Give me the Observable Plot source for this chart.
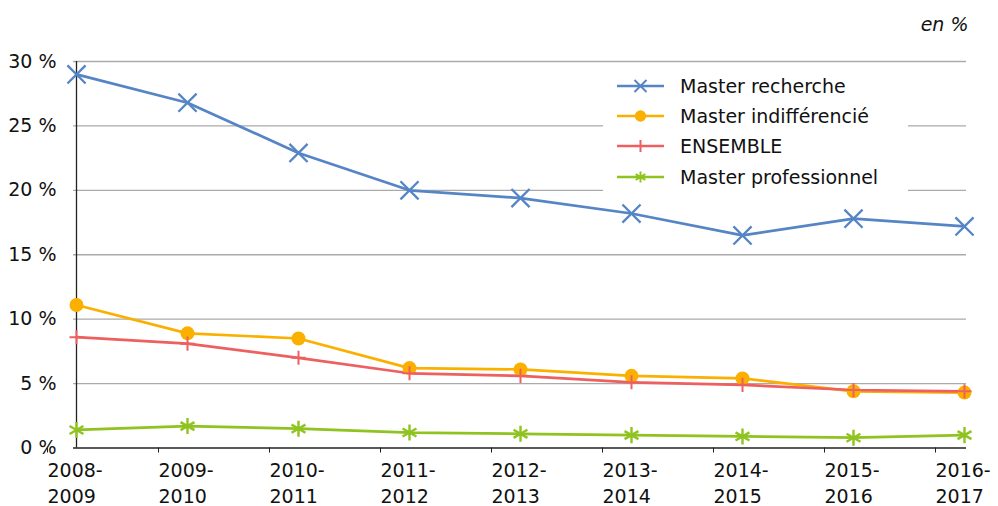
<!DOCTYPE html>
<html><head><meta charset="utf-8">
<script src="https://cdn.jsdelivr.net/npm/d3@7"></script>
<script src="https://cdn.jsdelivr.net/npm/@observablehq/plot@0.6"></script>
<style>
body{margin:0;background:#fff;font-family:"DejaVu Sans",sans-serif;}
#wrap{position:relative;width:998px;height:506px;overflow:hidden;}
#legend{position:absolute;left:603px;top:63px;width:305px;height:136px;background:#fff;}
</style></head><body><div id="wrap"></div>
<script>
const categories = ["2008-2009","2009-2010","2010-2011","2011-2012","2012-2013","2013-2014","2014-2015","2015-2016","2016-2017"];
const xTickLabels = ["2008-\n2009","2009-\n2010","2010-\n2011","2011-\n2012","2012-\n2013","2013-\n2014","2014-\n2015","2015-\n2016","2016-\n2017"];
const yTicks = [0, 5, 10, 15, 20, 25, 30];
const seriesNames = ["Master recherche", "Master indifférencié", "ENSEMBLE", "Master professionnel"];
const masterRecherche = [29.0, 26.8, 22.9, 20.0, 19.4, 18.2, 16.5, 17.8, 17.2];
const masterIndifferencie = [11.1, 8.9, 8.5, 6.2, 6.1, 5.6, 5.4, 4.4, 4.3];
const ensemble = [8.6, 8.1, 7.0, 5.8, 5.6, 5.1, 4.9, 4.5, 4.4];
const masterProfessionnel = [1.4, 1.7, 1.5, 1.2, 1.1, 1.0, 0.9, 0.8, 1.0];
const unitLabel = "en %";

const seriesValues = [masterRecherche, masterIndifferencie, ensemble, masterProfessionnel];
const seriesColors = ["#5585c5", "#fbb000", "#ee5f5f", "#8fc31f"];

const rows = [];
seriesNames.forEach((name, i) => seriesValues[i].forEach((v, j) => rows.push({series: name, cat: categories[j], value: v})));
const bySeries = name => rows.filter(d => d.series === name);
const labelOf = new Map(categories.map((c, i) => [c, xTickLabels[i]]));

const drawOrder = [3, 1, 2, 0];
const seriesMarks = [];
for (const i of drawOrder) {
  seriesMarks.push(Plot.line(bySeries(seriesNames[i]), {x: "cat", y: "value", stroke: seriesColors[i], strokeWidth: 2.7}));
}
const symOpts = [
  {symbol: "times", r: 8.3, stroke: seriesColors[0], strokeWidth: 2.3},
  {symbol: "circle", r: 7, fill: seriesColors[1], stroke: "none"},
  {symbol: "plus", r: 4.6, stroke: seriesColors[2], strokeWidth: 2},
  {symbol: "asterisk", r: 7.6, stroke: seriesColors[3], strokeWidth: 2.4}
];
for (const i of drawOrder) {
  seriesMarks.push(Plot.dot(bySeries(seriesNames[i]), {x: "cat", y: "value", ...symOpts[i]}));
}

const chart = Plot.plot({
  width: 998,
  height: 506,
  marginLeft: 73,
  marginRight: 32,
  marginTop: 61,
  marginBottom: 58.5,
  style: {fontFamily: "'DejaVu Sans', sans-serif", fontSize: "19px", color: "#111", background: "#fff"},
  x: {type: "point", domain: categories, padding: 0},
  y: {domain: [0, 30]},
  marks: [
    Plot.ruleY(yTicks.filter(d => d > 0), {stroke: "#aaaaaa", strokeWidth: 1.4}),
    Plot.ruleX([categories[0]], {stroke: "#222", strokeWidth: 1.3}),
    Plot.ruleY([0], {stroke: "#222", strokeWidth: 1.3}),
    Plot.axisY({ticks: yTicks, tickSize: 0, tickPadding: 17, tickFormat: d => d + " %", label: null, fontSize: 19}),
    Plot.axisX({tickSize: 5, tickPadding: 6, tickFormat: d => labelOf.get(d), textAnchor: "start", dx: -29, lineHeight: 1.36, label: null, fontSize: 19, stroke: "#222"}),
    ...seriesMarks,
    Plot.text([unitLabel], {frameAnchor: "top-right", dx: 2, dy: -37, textAnchor: "end", lineAnchor: "middle", fontStyle: "italic", fontSize: 19})
  ]
});
const wrap = document.getElementById("wrap");
wrap.appendChild(chart);

// Legend
const legend = document.createElement("div");
legend.id = "legend";
wrap.appendChild(legend);
const lsvg = d3.select(legend).append("svg").attr("width", 305).attr("height", 136);
const rowY = [23, 53, 83, 114];
const legSize = [{type: d3.symbolTimes, size: 96}, {type: d3.symbolCircle, size: 100}, {type: d3.symbolPlus, size: 48}, {type: d3.symbolAsterisk, size: 88}];
seriesNames.forEach((name, i) => {
  const g = lsvg.append("g").attr("transform", `translate(0,${rowY[i]})`);
  g.append("line").attr("x1", 14).attr("x2", 61).attr("y1", 0).attr("y2", 0).attr("stroke", seriesColors[i]).attr("stroke-width", 2.6);
  const p = g.append("path").attr("transform", "translate(37.5,0)").attr("d", d3.symbol(legSize[i].type, legSize[i].size)());
  if (i === 1) p.attr("fill", seriesColors[i]);
  else p.attr("fill", "none").attr("stroke", seriesColors[i]).attr("stroke-width", 2);
  g.append("text").attr("x", 77).attr("y", 0).attr("dy", "0.35em").attr("font-family", "'DejaVu Sans', sans-serif").attr("font-size", 19).attr("fill", "#111").text(name);
});
</script>
</body></html>
